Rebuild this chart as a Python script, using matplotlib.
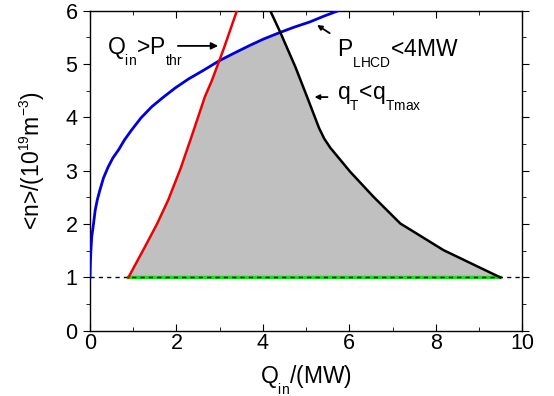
import numpy as np
import matplotlib
matplotlib.use("Agg")
import matplotlib.pyplot as plt
import matplotlib._mathtext as _mt

plt.rcParams['font.family'] = ['Liberation Sans', 'DejaVu Sans']
plt.rcParams['mathtext.default'] = 'regular'
# deeper, smaller sub/superscripts like the reference
_mt.SHRINK_FACTOR = 0.6
_mt.FontConstantsBase.sub1 = 0.85
_mt.FontConstantsBase.sup1 = 0.8

# Blue curve
blue_x = [0, 0.005, 0.02, 0.04, 0.08, 0.12, 0.17, 0.23, 0.31, 0.42, 0.53, 0.66, 0.8, 0.96, 1.18, 1.43, 1.7, 1.97, 2.28, 2.6, 3.01, 3.35, 3.7, 4.02, 4.36, 4.72, 5.09, 5.42, 5.75]
blue_y = [1.0, 1.2, 1.5, 1.76, 2.0, 2.26, 2.46, 2.64, 2.86, 3.07, 3.24, 3.39, 3.58, 3.76, 3.99, 4.2, 4.38, 4.55, 4.72, 4.87, 5.07, 5.21, 5.35, 5.47, 5.58, 5.69, 5.79, 5.9, 6.0]
# Red curve (Q_in > P_thr)
red_x = [0.89, 1.27, 1.55, 1.81, 2.1, 2.35, 2.66, 2.82, 3.1, 3.4]
red_y = [1.0, 1.57, 2.0, 2.45, 3.05, 3.64, 4.39, 4.69, 5.3, 6.0]
# Black curve (q_T < q_Tmax)
black_x = [4.17, 4.4, 4.75, 5.02, 5.3, 5.42, 5.56, 6.02, 6.56, 7.18, 8.18, 9.49]
black_y = [6.0, 5.6, 4.95, 4.39, 3.8, 3.6, 3.43, 2.98, 2.51, 2.01, 1.51, 1.0]
# Green / dashed lines
green_x = [0.89, 9.49]
green_y = [1.0, 1.0]
dash_x = [0, 10]
dash_y = [1.0, 1.0]

fig = plt.figure(figsize=(5.54, 3.96), dpi=100)
ax = fig.add_axes([0.1625, 0.165, 0.78, 0.808])

# shaded region
yy = np.linspace(1.0, 6.0, 800)
left = np.maximum(np.interp(yy, red_y, red_x), np.interp(yy, blue_y, blue_x))
right = np.interp(yy, black_y[::-1], black_x[::-1])
ax.fill_betweenx(yy, left, right, where=left <= right, color='#c0c0c0', lw=0, interpolate=True, zorder=1)

ax.plot(green_x, green_y, color='#00ee00', lw=2.5, zorder=3)
ax.plot(dash_x, dash_y, color='black', lw=1.0, ls=(0, (3, 3)), zorder=3.5)
ax.plot(blue_x, blue_y, color='#0000dd', lw=2.0, zorder=4)
ax.plot(red_x, red_y, color='#ee0000', lw=1.8, zorder=4)
ax.plot(black_x, black_y, color='black', lw=1.8, zorder=4)

ax.set_xlim(0, 10)
ax.set_ylim(0, 6)
ax.set_xticks([0, 2, 4, 6, 8, 10])
ax.set_xticks([1, 3, 5, 7, 9], minor=True)
ax.set_yticks([0, 1, 2, 3, 4, 5, 6])
ax.set_yticks(np.arange(0.5, 6, 1.0), minor=True)
ax.tick_params(axis='both', which='both', labelsize=15.5, top=True, right=True)
ax.tick_params(axis='x', which='major', direction='in', length=5, pad=2)
ax.tick_params(axis='x', which='minor', direction='in', length=3)
ax.tick_params(axis='y', which='major', direction='out', length=5, pad=4)
ax.tick_params(axis='y', which='minor', direction='out', length=3)
for s in ax.spines.values():
    s.set_linewidth(1.0)

ax.set_xlabel('Q$_{in}$/(MW)', fontsize=16.5, labelpad=7)
ax.set_ylabel('<n>/(10$^{19}$m$^{-3}$)', fontsize=16.5)
ax.yaxis.set_label_coords(-0.10, 0.53)

ax.text(0.39, 5.17, 'Q$_{in}$>P$_{thr}$', fontsize=16.5, va='baseline', ha='left', zorder=6)
ax.annotate('', xy=(3.03, 5.34), xytext=(1.97, 5.34),
            arrowprops=dict(arrowstyle='-|>', color='black', lw=1.3, mutation_scale=10), zorder=6)
ax.text(5.72, 5.13, 'P$_{LHCD}$<4MW', fontsize=16.5, va='baseline', ha='left', zorder=6)
ax.annotate('', xy=(5.2, 5.76), xytext=(5.6, 5.55),
            arrowprops=dict(arrowstyle='-|>', color='black', lw=1.3, mutation_scale=7), zorder=6)
ax.text(5.72, 4.33, 'q$_{T}$<q$_{Tmax}$', fontsize=16.5, va='baseline', ha='left', zorder=6)
ax.annotate('', xy=(5.13, 4.38), xytext=(5.56, 4.38),
            arrowprops=dict(arrowstyle='-|>', color='black', lw=1.3, mutation_scale=7), zorder=6)

fig.savefig('out.png', dpi=100)
